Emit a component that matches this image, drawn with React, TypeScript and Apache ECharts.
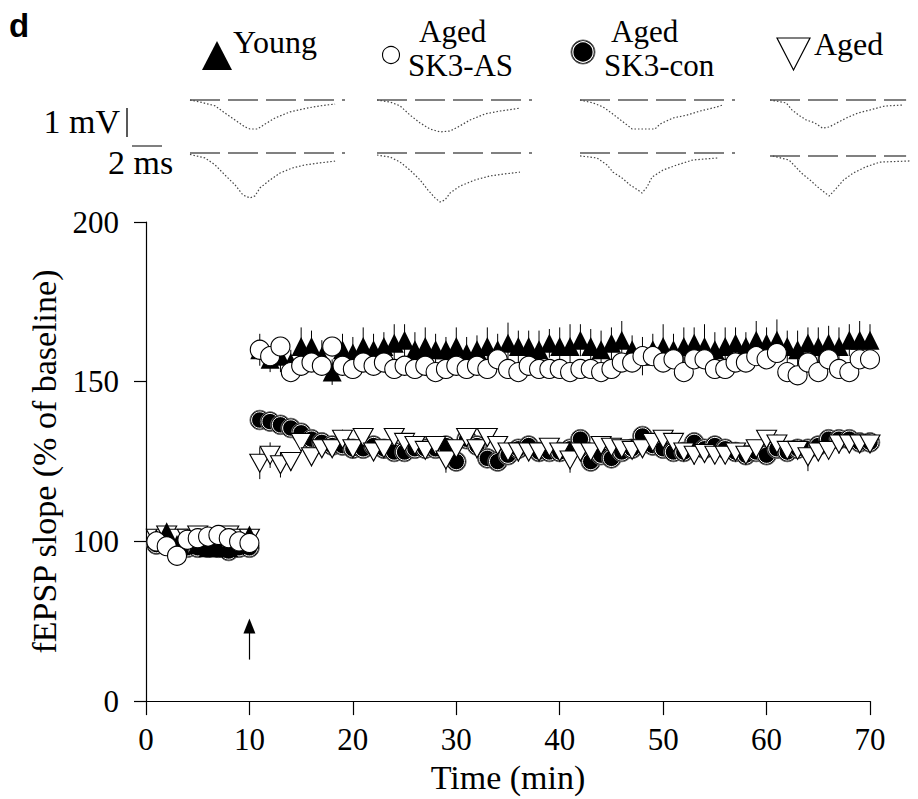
import React, { useEffect, useRef } from 'react';
import * as echarts from 'echarts';

// ---------- DATA ----------
const minutes = [
  1, 2, 3, 4, 5, 6, 7, 8, 9, 10,
  11, 12, 13, 14, 15, 16, 17, 18, 19, 20,
  21, 22, 23, 24, 25, 26, 27, 28, 29, 30,
  31, 32, 33, 34, 35, 36, 37, 38, 39, 40,
  41, 42, 43, 44, 45, 46, 47, 48, 49, 50,
  51, 52, 53, 54, 55, 56, 57, 58, 59, 60,
  61, 62, 63, 64, 65, 66, 67, 68, 69, 70,
];

const young = [
  101, 103, 99, 101, 99, 98, 98, 98, 99, 102,
  160, 157, 158, 156, 161, 161, 158, 153, 160, 159,
  161, 160, 161, 162, 163, 160, 161, 160, 160, 161,
  159, 160, 161, 160, 162, 161, 161, 160, 162, 161,
  161, 163, 161, 160, 162, 163, 160, 158, 160, 161,
  160, 161, 162, 161, 160, 161, 162, 161, 163, 162,
  163, 161, 160, 162, 161, 162, 161, 163, 163, 163,
];
const youngErr = [
  2, 2, 1.5, 2, 2, 1.5, 2, 2, 1.5, 2,
  5, 4, 5, 4, 6, 5, 5, 4, 5, 5,
  6, 5, 4.5, 6, 5, 5.5, 6, 5, 4, 6,
  5, 4.5, 6, 5, 6.5, 5, 5, 6, 4.5, 6,
  7, 5, 5.5, 6, 5, 6, 4.5, 6, 5, 7,
  5, 6, 5, 7, 5.5, 6, 5, 4.5, 6, 5,
  6.5, 5, 6, 5, 6, 5.5, 6, 5, 6, 5,
];

const agedAS = [
  100, 98.5, 95.5, 100.5, 101, 101.5, 102, 101, 100, 99.5,
  160, 158, 161, 153, 155, 156, 155, 161, 155, 154,
  156, 155, 156, 154, 155, 154, 155, 153, 154, 155,
  154, 155, 154, 157, 154, 153, 155, 154, 154, 154,
  153, 154, 154, 153, 154, 156, 156, 158, 158, 156,
  157, 153, 157, 157, 154, 154, 156, 156, 158, 157,
  159, 153, 152, 156, 153, 157, 154, 153, 157, 157,
];

const agedCon = [
  99, 99, 98, 98, 98, 98, 98, 97, 98, 98,
  138, 137.5, 136.5, 135.5, 134, 132, 131, 130, 130, 129,
  129, 130, 129, 128, 128, 129, 129, 129, 130, 125,
  132, 130, 126, 125, 127, 129, 130, 128, 128, 128,
  129, 132, 125, 127, 126, 128, 129, 133, 130, 129,
  128, 128, 131, 129, 130, 129, 128, 127, 128, 127,
  129, 128, 129, 129, 130, 132, 132, 132, 131, 131,
];

const aged = [
  101, 102, 101, 101, 102, 101, 101, 102, 101, 101,
  124.5, 127, 124, 125, 131, 126.5, 129, 129, 132, 129,
  132.5, 128, 129, 132.5, 131, 130, 128.5, 130, 125.5, 129,
  132.5, 129, 132.5, 130, 128, 128, 128, 128, 129.5, 128,
  125.5, 128, 128, 130, 129.5, 129, 128.5, 129, 131, 132,
  131, 128, 127, 127.5, 127, 127, 128, 127, 129, 132,
  130.5, 128.5, 128.5, 126.5, 128, 128.5, 130.5, 130.5, 130.5, 130.5,
];
const agedErr = [
  1.5, 1.5, 1.5, 1.5, 1.5, 1.5, 1.5, 1.5, 1.5, 1.5,
  5, 4, 4, 3, 3, 3, 2.5, 2, 3, 2,
  2.5, 2, 2.5, 3, 2, 2.5, 2, 3, 4, 2,
  2.5, 3, 2, 2.5, 2, 3, 2, 2.5, 2, 3,
  4, 2, 2.5, 2, 3, 2, 2.5, 2, 3, 2,
  2.5, 2, 3, 2, 2.5, 2, 3, 2, 2.5, 2,
  3, 2.5, 2, 4.5, 2.5, 2, 3, 2.5, 2, 2.5,
];

// tick labels of the value axis (the bottom tick of the original is printed "0")
const yTickValues = [50, 100, 150, 200];
const yTickLabels = ['0', '100', '150', '200'];
const xTickInterval = 10;

// tetanus arrow (min, % of baseline)
const arrowAt = 10;
const arrowFrom = 63;
const arrowTo = 73.5;

// sample fEPSP traces: [ms, mV]
const traceYoungPre = [
  [0, 0], [0.67, -0.07], [1.67, -0.2], [2.33, -0.45], [3, -0.69], [3.67, -0.93], [4, -1.0],
  [4.5, -1.0], [5, -0.83], [5.67, -0.62], [6.67, -0.41], [7.8, -0.28], [8.67, -0.2], [9.67, -0.14],
];
const traceYoungPost = [
  [0, -0.05], [1, -0.17], [1.67, -0.41], [2.33, -0.76], [3, -1.1], [3.53, -1.45], [4, -1.55],
  [4.33, -1.48], [4.67, -1.2], [5.33, -0.93], [6, -0.69], [6.8, -0.52], [7.67, -0.41], [8.67, -0.34], [9.67, -0.28],
];
const traceASPre = [
  [0, 0], [0.87, -0.07], [1.53, -0.2], [2.2, -0.52], [2.87, -0.79], [3.53, -1.0], [4.2, -1.1],
  [4.87, -1.07], [5.4, -0.93], [6.2, -0.69], [7.2, -0.48], [8.2, -0.38], [9.53, -0.28],
];
const traceASPost = [
  [0, -0.07], [0.87, -0.14], [1.53, -0.31], [2.2, -0.59], [2.87, -0.93], [3.4, -1.28], [3.87, -1.55],
  [4.2, -1.69], [4.53, -1.62], [4.87, -1.38], [5.53, -1.14], [6.53, -0.93], [7.53, -0.79], [8.53, -0.72], [9.53, -0.66],
];
const traceConPre = [
  [0, 0], [0.87, -0.1], [1.53, -0.24], [2, -0.41], [2.53, -0.62], [3.13, -0.86], [3.47, -1.0],
  [5, -1.0], [5.33, -0.83], [6.2, -0.62], [7.13, -0.52], [8, -0.38], [9.13, -0.24], [9.53, -0.17],
];
const traceConPost = [
  [0, -0.1], [1.13, -0.17], [1.8, -0.41], [2.2, -0.66], [2.8, -0.86], [3.33, -1.1], [3.87, -1.28],
  [4.13, -1.38], [4.47, -1.17], [4.8, -0.83], [5.53, -0.59], [6.47, -0.41], [7.53, -0.24], [9.2, -0.17],
];
const traceAgedPre = [
  [0, 0], [1.13, -0.1], [1.53, -0.34], [2, -0.52], [2.53, -0.69], [3.13, -0.79], [3.67, -0.97],
  [4.13, -0.93], [4.67, -0.79], [5.33, -0.62], [6.13, -0.45], [7, -0.34], [8, -0.21], [9.33, -0.17],
];
const traceAgedPost = [
  [0.2, 0], [1.33, -0.14], [1.8, -0.38], [2.2, -0.59], [2.8, -0.83], [3.33, -1.07], [3.87, -1.28],
  [4.13, -1.38], [4.53, -1.17], [5.13, -0.83], [5.8, -0.59], [6.67, -0.38], [7.67, -0.21], [9.8, -0.17],
];
const traceBaselineMs = [10.33, 10.33, 10.33, 9.5];

// ---------- LAYOUT ----------
const SERIF = 'Liberation Serif';
const MAIN = { left: 146, right: 48, top: 222, bottom: 97 };
const TRACE_COLS = [190, 377, 580, 770];
const TRACE_BASE_Y = [[100, 153], [100, 153], [100, 153], [100, 156]];
const TRACE_W = 155;
const TRACE_MS = 10.33;
const TRACE_PX_PER_MV = 29;
const TRACE_YMIN = -2;
const TRACE_YMAX = 0.3;
const LEG_FS = 31;

function buildOption() {
  const traces = [
    [traceYoungPre, traceYoungPost],
    [traceASPre, traceASPost],
    [traceConPre, traceConPost],
    [traceAgedPre, traceAgedPost],
  ];

  const grids: any[] = [{ ...MAIN }];
  const xAxes: any[] = [
    {
      type: 'value', gridIndex: 0, min: 0, max: 70, interval: xTickInterval,
      name: 'Time (min)', nameLocation: 'middle', nameGap: 57,
      nameTextStyle: { fontFamily: SERIF, fontSize: 34, color: '#000' },
      axisLine: { lineStyle: { color: '#000', width: 1.2 } },
      axisTick: { inside: false, length: 14, lineStyle: { color: '#000', width: 1.2 } },
      axisLabel: { fontFamily: SERIF, fontSize: 31, color: '#000', margin: 23 },
      splitLine: { show: false },
    },
  ];
  const yAxes: any[] = [
    {
      type: 'value', gridIndex: 0, min: yTickValues[0], max: yTickValues[yTickValues.length - 1], interval: 50,
      name: 'fEPSP slope (% of baseline)', nameLocation: 'middle', nameGap: 84,
      nameTextStyle: { fontFamily: SERIF, fontSize: 34, color: '#000' },
      axisLine: { show: true, lineStyle: { color: '#000', width: 1.2 } },
      axisTick: { show: true, inside: false, length: 12, lineStyle: { color: '#000', width: 1.2 } },
      axisLabel: {
        fontFamily: SERIF, fontSize: 31, color: '#000', margin: 27,
        formatter: (v: number) => {
          const i = yTickValues.indexOf(v);
          return i >= 0 ? yTickLabels[i] : '';
        },
      },
      splitLine: { show: false },
    },
  ];

  const series: any[] = [];

  // error bars
  const errSeries = (vals: number[], errs: number[]) => ({
    type: 'custom',
    xAxisIndex: 0, yAxisIndex: 0,
    silent: true,
    z: 1,
    data: minutes.map((m, i) => [m, vals[i], errs[i]]),
    renderItem: (_p: any, api: any) => {
      const x = api.value(0), y = api.value(1), e = api.value(2);
      const a = api.coord([x, y + e]);
      const b = api.coord([x, y - e]);
      return {
        type: 'line',
        shape: { x1: a[0], y1: a[1], x2: b[0], y2: b[1] },
        style: { stroke: '#000', lineWidth: 1 },
      };
    },
  });
  series.push(errSeries(young, youngErr));
  series.push(errSeries(aged, agedErr));

  // Aged SK3-con : filled circles with double outline
  series.push({
    name: 'Aged SK3-con',
    type: 'custom',
    xAxisIndex: 0, yAxisIndex: 0,
    z: 2,
    data: minutes.map((m, i) => [m, agedCon[i]]),
    renderItem: (_p: any, api: any) => {
      const c = api.coord([api.value(0), api.value(1)]);
      return {
        type: 'group',
        children: [
          { type: 'circle', shape: { cx: c[0], cy: c[1], r: 9.8 }, style: { fill: '#000', stroke: '#666', lineWidth: 1 } },
          { type: 'circle', shape: { cx: c[0], cy: c[1], r: 8.2 }, style: { fill: '#000', stroke: '#fff', lineWidth: 1 } },
        ],
      };
    },
  });

  series.push({
    name: 'Aged',
    type: 'scatter',
    xAxisIndex: 0, yAxisIndex: 0,
    z: 3,
    symbol: 'triangle',
    symbolRotate: 180,
    symbolSize: [20, 18],
    itemStyle: { color: '#fff', borderColor: '#000', borderWidth: 1.1, opacity: 1 },
    data: minutes.map((m, i) => [m, aged[i]]),
  });

  series.push({
    name: 'Young',
    type: 'scatter',
    xAxisIndex: 0, yAxisIndex: 0,
    z: 4,
    symbol: 'triangle',
    symbolSize: [19, 19],
    itemStyle: { color: '#000', opacity: 1 },
    data: minutes.map((m, i) => [m, young[i]]),
    markLine: {
      silent: true,
      symbol: ['none', 'triangle'],
      symbolSize: [12, 15],
      label: { show: false },
      lineStyle: { color: '#000', width: 1.2, type: 'solid' },
      data: [[{ coord: [arrowAt, arrowFrom] }, { coord: [arrowAt, arrowTo] }]],
    },
  });

  series.push({
    name: 'Aged SK3-AS',
    type: 'scatter',
    xAxisIndex: 0, yAxisIndex: 0,
    z: 5,
    symbol: 'circle',
    symbolSize: 19,
    itemStyle: { color: '#fff', borderColor: '#000', borderWidth: 1.1, opacity: 1 },
    data: minutes.map((m, i) => [m, agedAS[i]]),
  });

  // trace insets
  let gi = 1;
  TRACE_COLS.forEach((left, c) => {
    [0, 1].forEach((r) => {
      const base = TRACE_BASE_Y[c][r];
      grids.push({
        left, width: TRACE_W,
        top: base - TRACE_YMAX * TRACE_PX_PER_MV,
        height: (TRACE_YMAX - TRACE_YMIN) * TRACE_PX_PER_MV,
      });
      xAxes.push({ type: 'value', gridIndex: gi, min: 0, max: TRACE_MS, show: false });
      yAxes.push({ type: 'value', gridIndex: gi, min: TRACE_YMIN, max: TRACE_YMAX, show: false });
      series.push({
        type: 'line', xAxisIndex: gi, yAxisIndex: gi, silent: true,
        showSymbol: false, symbol: 'none',
        lineStyle: { color: '#808080', width: 2.2, type: [30, 8] },
        data: [[0, 0], [traceBaselineMs[c], 0]],
      });
      series.push({
        type: 'line', xAxisIndex: gi, yAxisIndex: gi, silent: true,
        showSymbol: false, symbol: 'none',
        lineStyle: { color: '#444', width: 1.2, type: [1.5, 2] },
        data: traces[c][r],
      });
      gi++;
    });
  });

  const txt = (text: string, x: number, y: number, extra: any = {}) => ({
    type: 'text', x, y, silent: true,
    style: {
      text, fontFamily: SERIF, fontSize: LEG_FS, fill: '#000',
      textAlign: 'left', textVerticalAlign: 'middle', ...extra,
    },
  });

  const graphic: any[] = [
    txt('d', 9, 25, { fontFamily: 'Liberation Sans', fontWeight: 'bold', fontSize: 33 }),
    // legend: Young
    { type: 'polygon', silent: true, shape: { points: [[202, 70], [232, 70], [217, 41]] }, style: { fill: '#000' } },
    txt('Young', 233, 42, { fontSize: 32 }),
    // legend: Aged SK3-AS
    { type: 'circle', silent: true, shape: { cx: 391, cy: 55, r: 8.5 }, style: { fill: '#fff', stroke: '#000', lineWidth: 1.1 } },
    txt('Aged', 419, 31),
    txt('SK3-AS', 408, 65),
    // legend: Aged SK3-con
    { type: 'circle', silent: true, shape: { cx: 583, cy: 52, r: 12 }, style: { fill: '#000', stroke: '#666', lineWidth: 1 } },
    { type: 'circle', silent: true, shape: { cx: 583, cy: 52, r: 10.2 }, style: { fill: '#000', stroke: '#fff', lineWidth: 1.2 } },
    txt('Aged', 611, 31),
    txt('SK3-con', 604, 65),
    // legend: Aged
    { type: 'polygon', silent: true, shape: { points: [[777, 38], [810, 38], [793.5, 70]] }, style: { fill: '#fff', stroke: '#000', lineWidth: 1.2 } },
    txt('Aged', 814, 44, { fontSize: 32 }),
    // scale bars
    { type: 'line', silent: true, shape: { x1: 127, y1: 108, x2: 127, y2: 137 }, style: { stroke: '#222', lineWidth: 1.5 } },
    { type: 'line', silent: true, shape: { x1: 132, y1: 146, x2: 162, y2: 146 }, style: { stroke: '#555', lineWidth: 1.5 } },
    txt('1 mV', 120, 121, { textAlign: 'right', fontSize: 34 }),
    txt('2 ms', 108, 162, { fontSize: 34 }),
  ];

  return {
    animation: false,
    backgroundColor: '#fff',
    grid: grids,
    xAxis: xAxes,
    yAxis: yAxes,
    series,
    graphic,
  };
}

export default function App() {
  const ref = useRef<HTMLDivElement>(null);
  useEffect(() => {
    if (!ref.current) return;
    const chart = echarts.init(ref.current, undefined, { renderer: 'svg' });
    chart.setOption(buildOption() as any);
    return () => chart.dispose();
  }, []);
  return (
    <div
      ref={ref}
      style={{ position: 'absolute', left: 0, top: 0, width: 918, height: 799 }}
    />
  );
}
